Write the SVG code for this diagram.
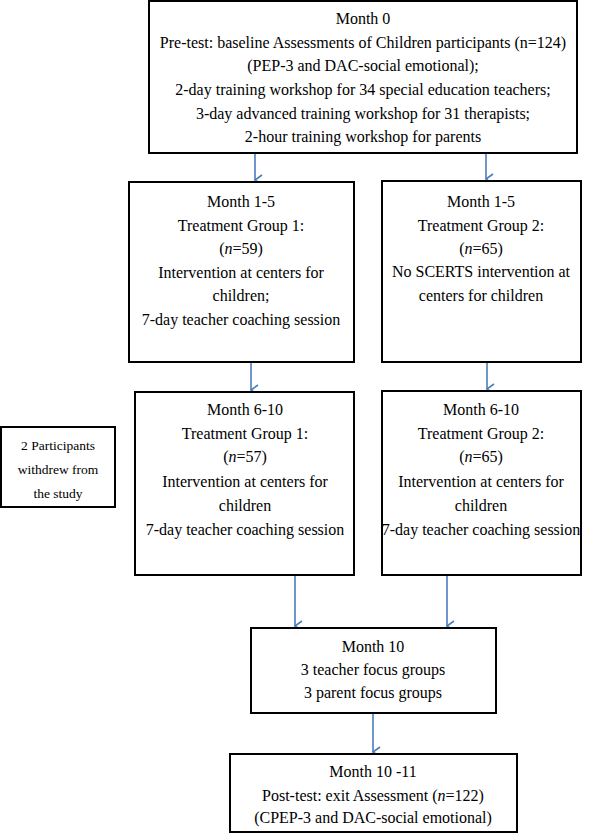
<svg xmlns="http://www.w3.org/2000/svg" width="601" height="833" viewBox="0 0 601 833">
<style>
rect{fill:#fff;stroke:#000;stroke-width:2}
text{font-family:'Liberation Serif','Times New Roman','DejaVu Serif',serif;font-size:16px;text-anchor:middle;fill:#000}
.s{font-size:13.5px}
.c line{stroke:#4a7ebb;stroke-width:1.6}
</style>
<defs><marker id="a" markerWidth="12" markerHeight="12" refX="6" refY="10" orient="auto" markerUnits="userSpaceOnUse"><path d="M1,3 L6,10 L11,3" fill="none" stroke="#4a7ebb" stroke-width="1.6"/></marker></defs>
<rect width="601" height="833" style="stroke:none"/>
<g class="c">
<line x1="255" y1="153" x2="255" y2="180" marker-end="url(#a)"/>
<line x1="486" y1="153" x2="486" y2="179" marker-end="url(#a)"/>
<line x1="251" y1="362" x2="251" y2="390" marker-end="url(#a)"/>
<line x1="487" y1="362" x2="487" y2="389" marker-end="url(#a)"/>
<line x1="295" y1="575" x2="295" y2="626" marker-end="url(#a)"/>
<line x1="447" y1="575" x2="447" y2="626" marker-end="url(#a)"/>
<line x1="373" y1="713" x2="373" y2="752" marker-end="url(#a)"/>
</g>
<g id="m0"><rect x="149" y="1" width="428" height="152"/>
<text x="363" y="24">Month 0</text>
<text x="363" y="48">Pre-test: baseline Assessments of Children participants (n=124)</text>
<text x="363" y="71">(PEP-3 and DAC-social emotional);</text>
<text x="363" y="95">2-day training workshop for 34 special education teachers;</text>
<text x="363" y="119">3-day advanced training workshop for 31 therapists;</text>
<text x="363" y="142">2-hour training workshop for parents</text></g>
<g id="g1a"><rect x="129" y="182" width="225" height="180"/>
<text x="241" y="207">Month 1-5</text>
<text x="241" y="231">Treatment Group 1:</text>
<text x="241" y="254">(<tspan font-style="italic">n</tspan>=59)</text>
<text x="241" y="278">Intervention at centers for</text>
<text x="241" y="301">children;</text>
<text x="241" y="325">7-day teacher coaching session</text></g>
<g id="g2a"><rect x="382" y="181" width="199" height="181"/>
<text x="481" y="207">Month 1-5</text>
<text x="481" y="231">Treatment Group 2:</text>
<text x="481" y="254">(<tspan font-style="italic">n</tspan>=65)</text>
<text x="481" y="277">No SCERTS intervention at</text>
<text x="481" y="301">centers for children</text></g>
<g id="w"><rect x="1" y="427" width="114" height="80"/>
<text class="s" x="58" y="450">2 Participants</text>
<text class="s" x="58" y="474">withdrew from</text>
<text class="s" x="58" y="498">the study</text></g>
<g id="g1b"><rect x="135" y="392" width="219" height="183"/>
<text x="245" y="415">Month 6-10</text>
<text x="245" y="439">Treatment Group 1:</text>
<text x="245" y="462">(<tspan font-style="italic">n</tspan>=57)</text>
<text x="245" y="487">Intervention at centers for</text>
<text x="245" y="511">children</text>
<text x="245" y="535">7-day teacher coaching session</text></g>
<g id="g2b"><rect x="382" y="391" width="199" height="184"/>
<text x="481" y="415">Month 6-10</text>
<text x="481" y="439">Treatment Group 2:</text>
<text x="481" y="462">(<tspan font-style="italic">n</tspan>=65)</text>
<text x="481" y="487">Intervention at centers for</text>
<text x="481" y="511">children</text>
<text x="481" y="535">7-day teacher coaching session</text></g>
<g id="m10"><rect x="251" y="628" width="245" height="85"/>
<text x="373" y="652">Month 10</text>
<text x="373" y="675">3 teacher focus groups</text>
<text x="373" y="698">3 parent focus groups</text></g>
<g id="post"><rect x="230" y="754" width="287" height="78"/>
<text x="373" y="777">Month 10 -11</text>
<text x="373" y="801">Post-test: exit Assessment (<tspan font-style="italic">n</tspan>=122)</text>
<text x="373" y="823">(CPEP-3 and DAC-social emotional)</text></g>
</svg>
